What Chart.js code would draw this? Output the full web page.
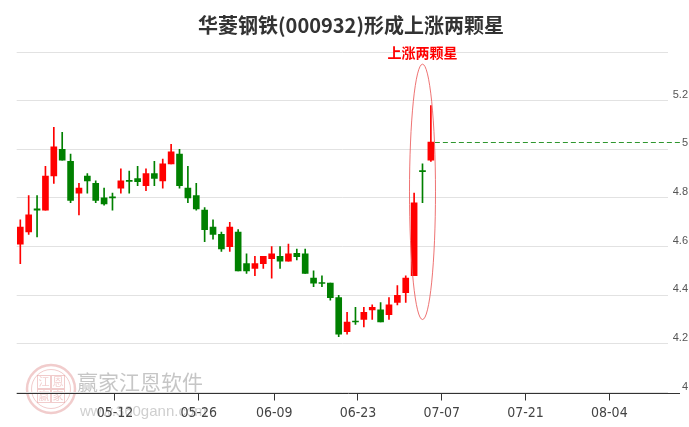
<!DOCTYPE html>
<html>
<head>
<meta charset="utf-8">
<title>华菱钢铁(000932)形成上涨两颗星</title>
<script src="https://cdn.jsdelivr.net/npm/chart.js@4.4.1/dist/chart.umd.min.js"></script>
<style>
  html, body { margin: 0; padding: 0; background: #fff; }
  #wrap { width: 689px; height: 427px; position: relative; }
</style>
</head>
<body>
<div id="wrap"><canvas id="kline"></canvas></div>
<script>
'use strict';

/* ── Data: daily candles (trading days) ─────────────── */
const dates = [
  '04-23','04-24','04-25','04-26','04-29','04-30','05-06','05-07','05-08','05-09',
  '05-10','05-13','05-14','05-15','05-16','05-17','05-20','05-21','05-22','05-23',
  '05-24','05-27','05-28','05-29','05-30','05-31','06-03','06-04','06-05','06-06',
  '06-10','06-11','06-12','06-13','06-14','06-17','06-18','06-19','06-20','06-21',
  '06-24','06-25','06-26','06-27','06-28','07-01','07-02','07-03','07-04','07-05'
];
const opens = [
  4.61, 4.66, 4.755, 4.75, 4.89, 5.00, 4.95, 4.82, 4.89, 4.86,
  4.80, 4.805, 4.84, 4.872, 4.88, 4.85, 4.90, 4.87, 4.94, 4.98,
  4.84, 4.81, 4.75, 4.68, 4.65, 4.60, 4.66, 4.53, 4.51, 4.53,
  4.55, 4.56, 4.54, 4.572, 4.57, 4.47, 4.452, 4.45, 4.39, 4.25,
  4.292, 4.30, 4.34, 4.34, 4.32, 4.37, 4.41, 4.48, 4.912, 4.955
];
const highs = [
  4.71, 4.81, 4.81, 4.93, 5.09, 5.07, 4.98, 4.86, 4.90, 4.87,
  4.84, 4.82, 4.92, 4.91, 4.93, 4.92, 4.95, 4.96, 5.02, 5.00,
  4.93, 4.86, 4.76, 4.71, 4.66, 4.70, 4.67, 4.57, 4.56, 4.56,
  4.60, 4.60, 4.61, 4.59, 4.59, 4.50, 4.48, 4.45, 4.40, 4.33,
  4.35, 4.35, 4.36, 4.37, 4.39, 4.44, 4.48, 4.82, 4.94, 5.18
];
const lows = [
  4.53, 4.65, 4.64, 4.75, 4.86, 4.955, 4.78, 4.73, 4.82, 4.78,
  4.77, 4.75, 4.82, 4.82, 4.85, 4.83, 4.85, 4.84, 4.94, 4.84,
  4.78, 4.75, 4.62, 4.63, 4.58, 4.58, 4.50, 4.49, 4.48, 4.51,
  4.47, 4.51, 4.54, 4.545, 4.49, 4.435, 4.435, 4.38, 4.23, 4.24,
  4.28, 4.27, 4.30, 4.29, 4.30, 4.36, 4.37, 4.48, 4.78, 4.95
];
const closes = [
  4.68, 4.73, 4.75, 4.89, 5.01, 4.955, 4.79, 4.84, 4.87, 4.79,
  4.775, 4.80, 4.87, 4.868, 4.867, 4.90, 4.88, 4.94, 4.99, 4.85,
  4.80, 4.755, 4.67, 4.65, 4.59, 4.68, 4.50, 4.50, 4.53, 4.56,
  4.57, 4.54, 4.57, 4.558, 4.49, 4.45, 4.448, 4.39, 4.24, 4.29,
  4.29, 4.33, 4.35, 4.29, 4.36, 4.40, 4.47, 4.78, 4.908, 5.03
];

/* ── Axis ticks ─────────────────────────────────────── */
const tickSlots  = [11, 21, 30, 40, 50, 60, 70];          // trading-day slot of each label
const tickLabels = ['05-12', '05-26', '06-09', '06-23', '07-07', '07-21', '08-04'];
const priceTicks = [4, 4.2, 4.4, 4.6, 4.8, 5, 5.2, 5.4];

/* ── Pattern marked on the chart ────────────────────── */
const markFrom  = 47;
const markTo    = 49;
const markText  = '上涨两颗星';
const titleText = '华菱钢铁(000932)形成上涨两颗星';

/* ── Styling ────────────────────────────────────────── */
const UP     = '#ff0000';
const DOWN   = '#008000';
const CJK    = "'Noto Sans CJK SC', 'Noto Sans', sans-serif";
const NARROW = "'Liberation Sans Narrow', 'Arial Narrow', 'DejaVu Sans Condensed', sans-serif";
const SANS   = "'Liberation Sans', Arial, sans-serif";
const TICK_SHIFT = 0.3;

const colors = closes.map((c, i) => (c >= opens[i] ? UP : DOWN));

/* ── Decoration plugin: watermark, title, marks ─────── */
const decor = {
  id: 'decor',

  beforeDraw(chart) {
    const ctx = chart.ctx;
    ctx.save();
    // stamp logo
    ctx.strokeStyle = 'rgba(215,110,110,0.35)';
    ctx.lineWidth = 2.5;
    ctx.beginPath(); ctx.arc(51, 389, 24, 0, Math.PI * 2); ctx.stroke();
    ctx.lineWidth = 1;
    ctx.beginPath(); ctx.arc(51, 389, 19.5, 0, Math.PI * 2); ctx.stroke();
    ctx.fillStyle = 'rgba(215,110,110,0.35)';
    ctx.font = '11px ' + CJK;
    ctx.textAlign = 'center';
    ctx.textBaseline = 'middle';
    [['江', 44, 382], ['恩', 58, 382], ['赢', 44, 396], ['家', 58, 396]].forEach(([t, x, y]) => {
      ctx.strokeRect(x - 6.5, y - 6.5, 13, 13);
      ctx.fillText(t, x, y);
    });
    // watermark text
    ctx.textAlign = 'left';
    ctx.fillStyle = '#c6c6c6';
    ctx.font = '21px ' + CJK;
    ctx.fillText('赢家江恩软件', 77, 382);
    ctx.fillStyle = '#cfcfcf';
    ctx.font = '15px ' + SANS;
    ctx.fillText('www.360gann.com', 80, 412);
    ctx.restore();
  },

  beforeDatasetsDraw(chart) {
    // x axis line runs a little past the plot area
    const ctx = chart.ctx, a = chart.chartArea;
    ctx.save();
    ctx.strokeStyle = '#333';
    ctx.lineWidth = 1;
    ctx.beginPath();
    ctx.moveTo(a.left, Math.round(a.bottom) + 0.5);
    ctx.lineTo(a.right + 12, Math.round(a.bottom) + 0.5);
    ctx.stroke();
    ctx.restore();
  },

  afterDatasetsDraw(chart) {
    const ctx = chart.ctx;
    const xs = chart.scales.x, ys = chart.scales.y;
    const last = closes.length - 1;
    ctx.save();

    // dashed line at the latest close
    const yc = Math.round(ys.getPixelForValue(closes[last])) + 0.5;
    ctx.strokeStyle = '#2f962f';
    ctx.lineWidth = 1;
    ctx.setLineDash([5, 3]);
    ctx.beginPath();
    ctx.moveTo(xs.getPixelForValue(last) + 4, yc);
    ctx.lineTo(chart.width - 6, yc);
    ctx.stroke();
    ctx.setLineDash([]);

    // ellipse around the pattern
    const hi = Math.max(...highs.slice(markFrom, markTo + 1));
    const lo = Math.min(...lows.slice(markFrom, markTo + 1));
    const cx = xs.getPixelForValue((markFrom + markTo) / 2);
    const top = ys.getPixelForValue(hi + 0.17);
    const bot = ys.getPixelForValue(lo - 0.18);
    ctx.strokeStyle = 'rgba(235,90,90,0.85)';
    ctx.beginPath();
    ctx.ellipse(cx, (top + bot) / 2, 13, (bot - top) / 2, 0, 0, Math.PI * 2);
    ctx.stroke();

    // pattern label
    ctx.fillStyle = UP;
    ctx.font = 'bold 14px ' + CJK;
    ctx.textAlign = 'center';
    ctx.textBaseline = 'middle';
    ctx.fillText(markText, cx, top - 11);
    ctx.restore();
  },

  afterDraw(chart) {
    const ctx = chart.ctx;
    ctx.save();
    ctx.fillStyle = '#333';
    ctx.font = 'bold 20px ' + CJK;
    ctx.textAlign = 'center';
    ctx.textBaseline = 'middle';
    ctx.fillText(titleText, 351, 25);
    ctx.restore();
  }
};

/* ── Chart ──────────────────────────────────────────── */
new Chart(document.getElementById('kline'), {
  type: 'bar',
  data: {
    labels: dates,
    datasets: [
      {
        label: 'body',
        data: opens.map((o, i) => ({ x: i, y: [o, closes[i]] })),
        backgroundColor: colors,
        barThickness: 6,
        minBarLength: 1,
        grouped: false,
        order: 0
      },
      {
        label: 'wick',
        data: lows.map((l, i) => ({ x: i, y: [l, highs[i]] })),
        backgroundColor: colors,
        barThickness: 1,
        grouped: false,
        order: 1
      }
    ]
  },
  options: {
    responsive: true,
    maintainAspectRatio: false,
    animation: false,
    layout: { padding: { top: 52, left: 16.7, right: 1, bottom: 0 } },
    plugins: {
      legend: { display: false },
      tooltip: { enabled: false },
      title: { display: false }
    },
    scales: {
      x: {
        type: 'linear',
        min: -0.43,
        max: 77.3,
        offset: false,
        afterFit: s => { s.height = 34.5; },
        afterBuildTicks: s => { s.ticks = tickSlots.map(v => ({ value: v + TICK_SHIFT })); },
        grid: {
          offset: false,
          drawOnChartArea: false,
          drawTicks: true,
          tickLength: 8,
          tickColor: '#333'
        },
        border: { display: false },
        ticks: {
          autoSkip: false,
          maxRotation: 0,
          padding: 4,
          color: '#444',
          font: { family: NARROW, size: 14 },
          callback: (v, i) => tickLabels[i]
        }
      },
      y: {
        position: 'right',
        min: 4,
        max: 5.4,
        afterFit: s => { s.width = 20; },
        afterBuildTicks: s => { s.ticks = priceTicks.map(v => ({ value: v })); },
        grid: { color: '#e2e2e2', drawTicks: false },
        border: { display: false },
        ticks: {
          crossAlign: 'far',
          labelOffset: -6,
          padding: 0,
          color: '#555',
          font: { family: SANS, size: 11 },
          callback: v => (v >= 5.39 ? '' : String(+v.toFixed(1)))
        }
      }
    }
  },
  plugins: [decor]
});
</script>
</body>
</html>
